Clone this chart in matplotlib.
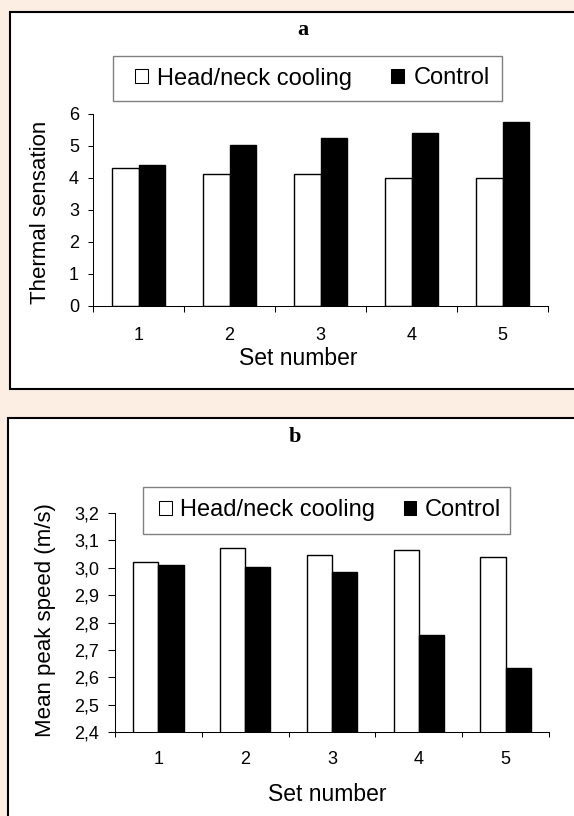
import matplotlib
matplotlib.use('Agg')
import matplotlib.pyplot as plt
from matplotlib.patches import Rectangle, Patch
import numpy as np

# ---------------- data ----------------
sets = [1, 2, 3, 4, 5]
series_names = ['Head/neck cooling', 'Control']
thermal_cooling = [4.32, 4.11, 4.11, 4.00, 4.00]
thermal_control = [4.40, 5.01, 5.24, 5.41, 5.74]
speed_cooling = [3.020, 3.073, 3.046, 3.064, 3.040]
speed_control = [3.009, 3.003, 2.984, 2.753, 2.632]
thermal_yticks = [0, 1, 2, 3, 4, 5, 6]
speed_yticks = [2.4, 2.5, 2.6, 2.7, 2.8, 2.9, 3.0, 3.1, 3.2]
panel_titles = ['a', 'b']
ylabels = ['Thermal sensation', 'Mean peak speed (m/s)']
xlabel = 'Set number'

# ---------------- layout ----------------
W, H = 574, 816
BG = '#FDEEE4'
plt.rcParams['font.family'] = ['Liberation Sans', 'DejaVu Sans']

fig = plt.figure(figsize=(W / 100, H / 100), dpi=100, facecolor=BG)


def fx(x):
    return x / W


def fy(y):
    return 1 - y / H


def frame(x0, y0, x1, y1, ec='black', lw=1.5, z=-1):
    r = Rectangle((fx(x0), fy(y1)), fx(x1) - fx(x0), fy(y0) - fy(y1),
                  transform=fig.transFigure, facecolor='white',
                  edgecolor=ec, lw=lw, zorder=z)
    fig.patches.append(r)


# outer panel boxes (run past the right / bottom edge like the reference)
frame(10, 12, 620, 389)
frame(8, 418, 620, 860)


def panel(rect, cool, ctrl, yticks, ylim, ylen, ypad, xlen, xpad):
    ax = fig.add_axes(rect)
    ax.set_zorder(1)
    ax.set_facecolor('none')
    x = np.array(sets, dtype=float)
    w = 0.29
    ax.bar(x - w, cool, width=w, align='edge', color='white',
           edgecolor='black', lw=1.0, zorder=2)
    ax.bar(x, ctrl, width=w, align='edge', color='black',
           edgecolor='black', lw=1.0, zorder=2)
    ax.set_xlim(0.5, 5.5)
    ax.set_ylim(*ylim)
    ax.set_yticks(yticks)
    ax.set_yticklabels([('%g' % v) if ylim[0] == 0 else ('%.1f' % v).replace('.', ',')
                        for v in yticks])
    ax.set_xticks(np.arange(0.5, 6.0, 1.0))
    ax.set_xticklabels([])
    ax.set_xticks(sets, minor=True)
    ax.set_xticklabels([str(s) for s in sets], minor=True)
    ax.tick_params(axis='x', which='major', direction='out', length=xlen,
                   width=0.75, color='black')
    ax.tick_params(axis='x', which='minor', length=0, pad=xpad, labelsize=13)
    ax.tick_params(axis='y', direction='out', length=ylen, width=0.75,
                   pad=ypad, labelsize=13, color='black')
    for s in ['top', 'right']:
        ax.spines[s].set_visible(False)
    for s in ['left', 'bottom']:
        ax.spines[s].set_linewidth(0.75)
        ax.spines[s].set_color('black')
    return ax


ax_a = panel([fx(93), fy(306), fx(548) - fx(93), fy(113.7) - fy(306)],
             thermal_cooling, thermal_control, thermal_yticks, (0, 6),
             3.6, 6.5, 4.3, 14.9)
ax_b = panel([fx(115), fy(732), fx(549) - fx(115), fy(513) - fy(732)],
             speed_cooling, speed_control, speed_yticks, (2.4, 3.2),
             5.0, 6.5, 3.6, 13.7)

# legends (frame drawn separately to match box size)
handles = [Patch(facecolor='white', edgecolor='black', lw=0.75),
           Patch(facecolor='black', edgecolor='black', lw=0.75)]

frame(113, 56, 502, 101, ec='#808080', lw=1.0, z=4)
lg_a = fig.legend(handles, series_names, loc='center left',
                  bbox_to_anchor=(fx(135.4), fy(78.5)), ncol=2, frameon=False,
                  fontsize=17, handlelength=0.53, handleheight=0.53,
                  handletextpad=0.4, columnspacing=1.65, borderpad=0,
                  borderaxespad=0)
lg_a.set_zorder(5)

frame(143, 487, 510, 534, ec='#808080', lw=1.0, z=4)
lg_b = fig.legend(handles, series_names, loc='center left',
                  bbox_to_anchor=(fx(159), fy(510)), ncol=2, frameon=False,
                  fontsize=17, handlelength=0.53, handleheight=0.53,
                  handletextpad=0.35, columnspacing=1.23, borderpad=0,
                  borderaxespad=0)
lg_b.set_zorder(5)

# titles
fig.text(fx(303), fy(35), panel_titles[0], ha='center', va='baseline',
         fontsize=16, fontweight='bold', family='Liberation Serif')
fig.text(fx(294.6), fy(441.7), panel_titles[1], ha='center', va='baseline',
         fontsize=16, fontweight='bold', family='Liberation Serif')

# axis labels
fig.text(fx(41), fy(212.5), ylabels[0], rotation=90, ha='center', va='center',
         fontsize=16)
fig.text(fx(46), fy(620.5), ylabels[1], rotation=90, ha='center', va='center',
         fontsize=16)
fig.text(fx(298.5), fy(365), xlabel, ha='center', va='baseline', fontsize=16.5)
fig.text(fx(327), fy(801), xlabel, ha='center', va='baseline', fontsize=16.5)

fig.savefig('out.png', dpi=100, facecolor=BG)
